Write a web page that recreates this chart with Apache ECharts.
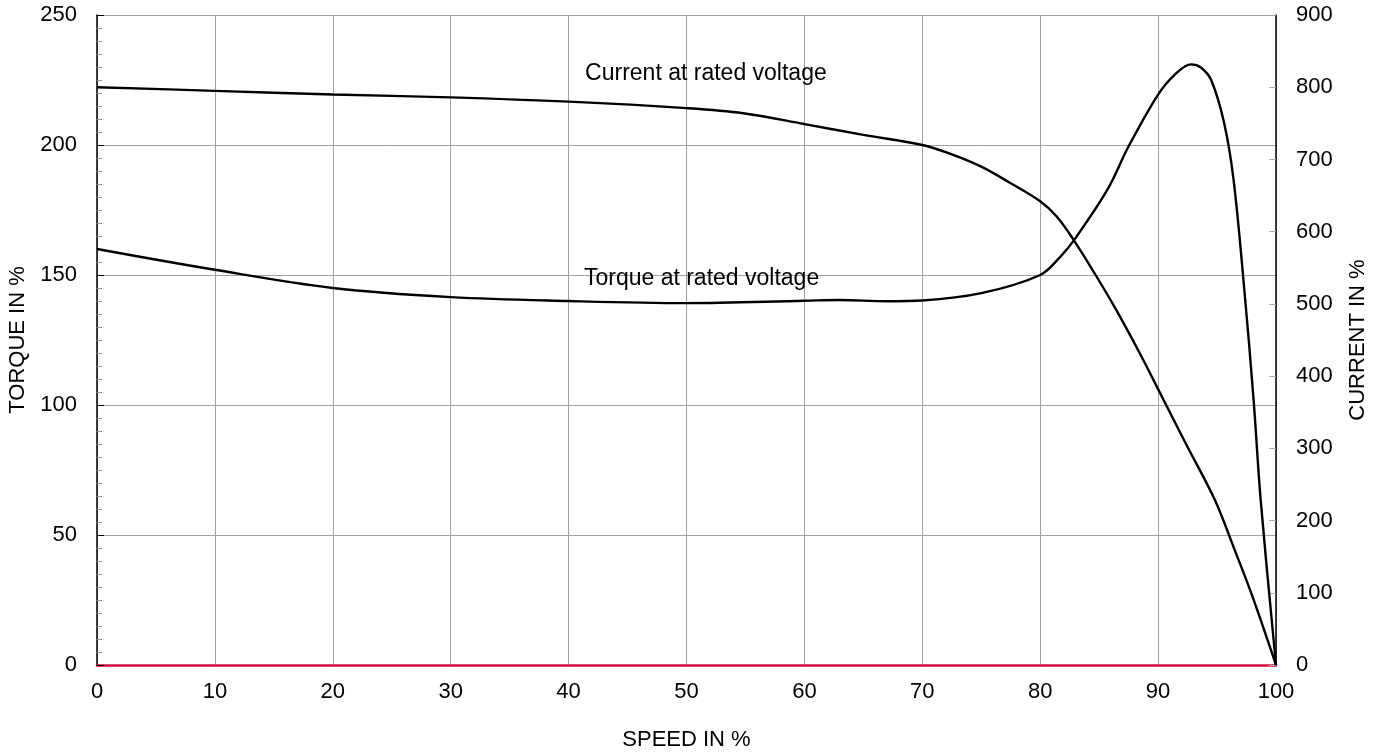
<!DOCTYPE html>
<html>
<head>
<meta charset="utf-8">
<script src="https://cdn.jsdelivr.net/npm/echarts@6/dist/echarts.min.js"></script>
<style>
  html, body { margin: 0; padding: 0; background: #fff; }
  #chart { width: 1387px; height: 755px; }
</style>
</head>
<body>
<div id="chart"></div>
<script>
// speed in %, torque in % (left axis)
const torqueSpeed = [0, 10, 20, 30, 40, 50, 60, 63, 67, 70, 75, 80, 81.7, 82.9, 85.7, 87.5, 90, 91.4, 92.8, 93.6, 94.5, 95.6, 96.4, 97.3, 98.1, 98.7, 100]
const torqueValues = [160, 152, 145, 141.5, 140, 139.2, 140.1, 140.4, 139.9, 140.2, 143, 150, 157, 163.6, 182.8, 199.5, 219.4, 227, 231, 229.9, 225, 208.5, 186.7, 145, 102, 63.5, 0]

// speed in %, current in % (right axis)
const currentSpeed = [0, 10, 20, 30, 40, 50, 54.8, 60, 65, 70, 72.5, 75, 77.5, 80, 81.4, 82.9, 84.7, 86.4, 88.4, 90, 92.4, 94.8, 96.5, 98, 100]
const currentValues = [800, 795, 790, 786, 780, 771, 764, 749, 734, 720, 707, 690, 667, 642, 621, 587, 540, 493, 433, 382, 305, 229, 159, 95, 0]

const speedTicks = [0, 10, 20, 30, 40, 50, 60, 70, 80, 90, 100]

const FONT = '"Liberation Sans", Arial, sans-serif'
const FS = 22
const NOTE_FS = 23

const pairs = (xs, ys) => xs.map((x, i) => [x, ys[i]])

const chart = echarts.init(document.getElementById('chart'))

chart.setOption({
  animation: false,
  textStyle: { fontFamily: FONT },
  grid: {
    left: 97,
    right: 111,
    top: 15,
    bottom: 90,
    outerBoundsMode: 'none'
  },
  xAxis: {
    type: 'value',
    min: speedTicks[0],
    max: speedTicks[speedTicks.length - 1],
    interval: 10,
    name: 'SPEED IN %',
    nameLocation: 'middle',
    nameGap: 64,
    nameTextStyle: { color: '#000', fontSize: FS, fontFamily: FONT },
    axisLine: { lineStyle: { color: '#d40c3c', width: 2.5 } },
    axisTick: { show: false },
    axisLabel: { color: '#000', fontSize: FS, margin: 16, fontFamily: FONT },
    splitLine: { show: true, lineStyle: { color: '#a0a0a0', width: 1 } }
  },
  yAxis: [{
    type: 'value',
    min: 0,
    max: 250,
    interval: 50,
    name: 'TORQUE IN %',
    nameLocation: 'middle',
    nameGap: 66,
    nameRotate: 90,
    nameTextStyle: { color: '#000', fontSize: FS, fontFamily: FONT },
    axisLine: { show: true, onZero: false, lineStyle: { color: '#000', width: 1.5 } },
    axisTick: { show: true, inside: true, length: 7, lineStyle: { color: '#000' } },
    minorTick: { show: true, splitNumber: 10, length: 5, lineStyle: { color: '#999' } },
    axisLabel: { color: '#000', fontSize: FS, margin: 20, fontFamily: FONT },
    splitLine: { show: true, lineStyle: { color: '#a0a0a0', width: 1 } }
  }, {
    type: 'value',
    min: 0,
    max: 900,
    interval: 100,
    position: 'right',
    name: 'CURRENT IN %',
    nameLocation: 'middle',
    nameGap: 71,
    nameRotate: 90,
    nameTextStyle: { color: '#000', fontSize: FS, fontFamily: FONT },
    axisLine: { show: true, onZero: false, lineStyle: { color: '#000', width: 1.5 } },
    axisTick: { show: true, inside: true, length: 7, lineStyle: { color: '#aaa' } },
    axisLabel: { color: '#000', fontSize: FS, margin: 20, fontFamily: FONT },
    splitLine: { show: false }
  }],
  series: [{
    name: 'Torque at rated voltage',
    type: 'line',
    yAxisIndex: 0,
    smooth: 0.35,
    symbol: 'none',
    lineStyle: { color: '#000', width: 2.4 },
    data: pairs(torqueSpeed, torqueValues),
    markPoint: {
      symbol: 'circle',
      symbolSize: 0,
      silent: true,
      label: {
        show: true,
        position: 'right',
        distance: 0,
        color: '#000',
        fontSize: NOTE_FS,
        fontFamily: FONT,
        formatter: 'Torque at rated voltage'
      },
      data: [{ coord: [41.3, 148.6] }]
    }
  }, {
    name: 'Current at rated voltage',
    type: 'line',
    yAxisIndex: 1,
    smooth: 0.35,
    symbol: 'none',
    lineStyle: { color: '#000', width: 2.4 },
    data: pairs(currentSpeed, currentValues),
    markPoint: {
      symbol: 'circle',
      symbolSize: 0,
      silent: true,
      label: {
        show: true,
        position: 'right',
        distance: 0,
        color: '#000',
        fontSize: NOTE_FS,
        fontFamily: FONT,
        formatter: 'Current at rated voltage'
      },
      data: [{ coord: [41.4, 819] }]
    }
  }]
})
</script>
</body>
</html>
